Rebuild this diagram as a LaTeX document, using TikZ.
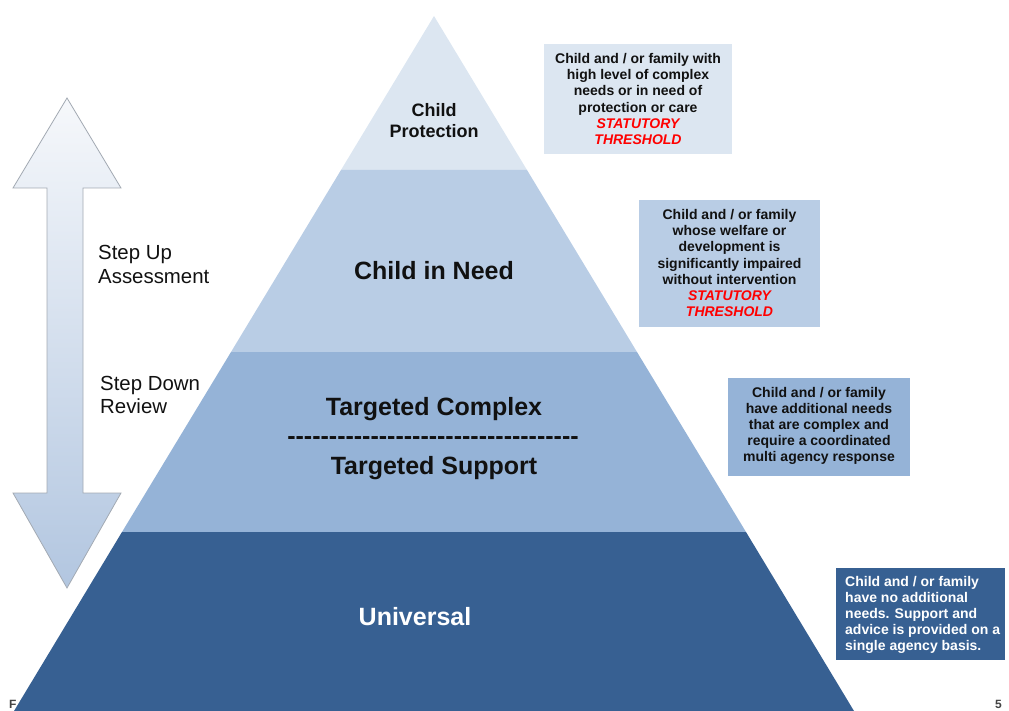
\documentclass[tikz,border=0pt]{standalone}
\usepackage{fontspec}
\setmainfont{Liberation Sans}
\definecolor{bandA}{HTML}{DCE6F1}
\definecolor{bandB}{HTML}{B9CDE5}
\definecolor{bandC}{HTML}{95B3D7}
\definecolor{bandD}{HTML}{376092}
\definecolor{stattxt}{HTML}{FF0000}
\definecolor{darktxt}{HTML}{111111}
\definecolor{arrowline}{HTML}{A3AAB3}
\definecolor{arrowtop}{HTML}{F6F8FB}
\definecolor{arrowbot}{HTML}{B2C6E0}
\definecolor{pagenum}{HTML}{444444}
\newcommand{\hyph}{-\kern0pt}
\begin{document}
\begin{tikzpicture}[x=1pt,y=-1pt,
  infobox/.style={inner sep=0pt, align=center, text=darktxt,
    font=\fontsize{14}{16.2}\selectfont\bfseries},
  level/.style={align=center, text=darktxt, inner sep=0pt},
  sidetext/.style={align=left, anchor=west, inner sep=0pt,
    font=\fontsize{20.4}{23.5}\selectfont, text=darktxt},
  stat/.style={text=stattxt}
]
\useasboundingbox (0,0) rectangle (1009,711);
% footer marks
\node[anchor=base west, inner sep=0pt, text=pagenum, font=\fontsize{12}{14}\selectfont\bfseries] (foot) at (9,708) {F};
\node[anchor=base east, inner sep=0pt, text=pagenum, font=\fontsize{12}{14}\selectfont\bfseries] (pnum) at (1002,708) {5};
% pyramid bands
\fill[bandA] (434,16) -- (341,170) -- (527,170) -- cycle;
\fill[bandB] (341,170) -- (231,352) -- (637,352) -- (527,170) -- cycle;
\fill[bandC] (231,352) -- (122,532) -- (746,532) -- (637,352) -- cycle;
\fill[bandD] (122,532) -- (14,711) -- (854,711) -- (746,532) -- cycle;
% double arrow
\path[draw=arrowline, line width=0.8pt, top color=arrowtop, bottom color=arrowbot]
  (67,98) -- (121,188) -- (83,188) -- (83,493) -- (121,493) -- (67,588)
  -- (13,493) -- (47,493) -- (47,188) -- (13,188) -- cycle;
\node[sidetext] (stepup) at (98,264.5) {Step Up\\Assessment};
\node[sidetext] (stepdown) at (100,395) {Step Down\\Review};
% level labels
\node[level, font=\fontsize{18}{21}\selectfont\bfseries] (cp) at (434,121) {Child\\Protection};
\node[level, font=\fontsize{25}{30}\selectfont\bfseries] (cin) at (434,271) {Child in Need};
\node[level, font=\fontsize{25}{30}\selectfont\bfseries] (tc) at (434,409) {Targeted Complex};
\node[level, anchor=base, text height=9pt, text depth=0pt, font=\fontsize{25}{30}\selectfont\bfseries] (dash) at (433,444) {\foreach \k in {1,...,35}{\hyph}};
\node[level, font=\fontsize{25}{30}\selectfont\bfseries] (ts) at (434,468) {Targeted Support};
\node[level, text=white, font=\fontsize{25}{30}\selectfont\bfseries] (uni) at (415,617) {Universal};
% info boxes
\fill[bandA] (544,44) rectangle (732,154);
\node[infobox] (b1) at (638,99) {Child and / or family with\\high level of complex\\needs or in need of\\protection or care\\{\itshape\color{stattxt}STATUTORY}\\{\itshape\color{stattxt}THRESHOLD}};
\fill[bandB] (639,200) rectangle (820,327);
\node[infobox] (b2) at (729.5,263) {Child and / or family\\whose welfare or\\development is\\significantly impaired\\without intervention\\{\itshape\color{stattxt}STATUTORY}\\{\itshape\color{stattxt}THRESHOLD}};
\fill[bandC] (728,378) rectangle (910,476);
\node[infobox] (b3) at (819,426) {Child and / or family\\have additional needs\\that are complex and\\require a coordinated\\multi agency response};
\fill[bandD] (836,568) rectangle (1005,660);
\node[infobox, align=left, anchor=west, text=white] (b4) at (845,615) {Child and / or family\\have no additional\\needs. Support and\\advice is provided on a\\single agency basis.};
\end{tikzpicture}
\end{document}
